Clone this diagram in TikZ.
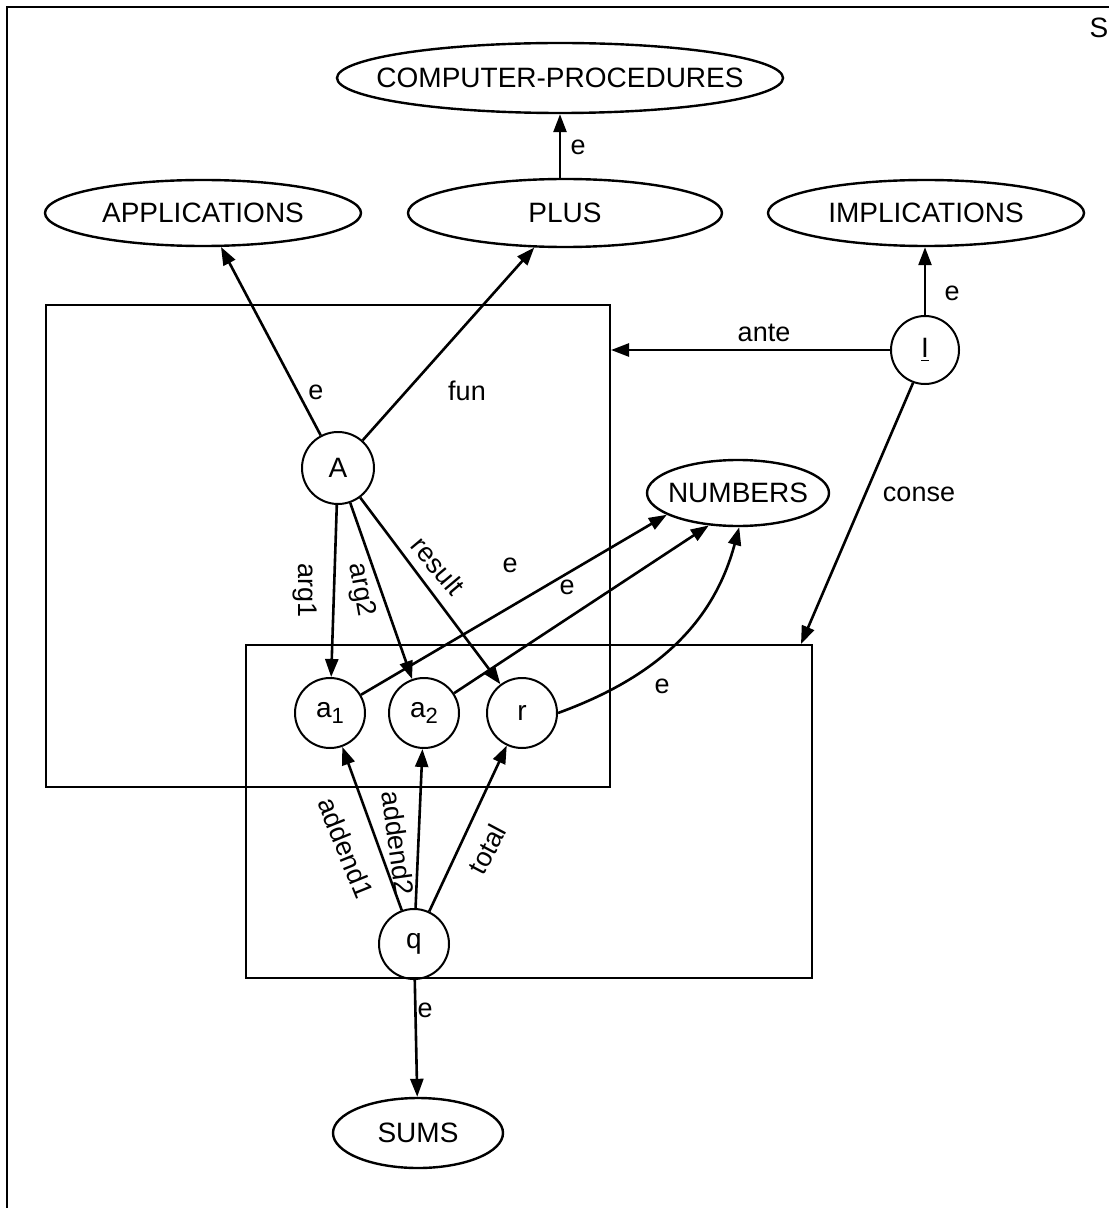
\documentclass[tikz,border=0pt]{standalone}
\usepackage{fontspec}
\setmainfont{Liberation Sans}
\usetikzlibrary{shapes.geometric,arrows.meta}
\newcommand{\zw}[1]{\makebox[0pt]{#1}}
\begin{document}
\begin{tikzpicture}[x=0.5pt,y=-0.5pt,
  every node/.style={font=\fontsize{14}{16}\selectfont},
  ell/.style={draw, ellipse, line width=1.2pt, inner sep=0pt},
  circ/.style={draw, circle, line width=1pt, minimum size=35pt, inner sep=0pt},
  frm/.style={draw, line width=1pt, inner sep=0pt},
  arr/.style={line width=1.3pt, -{Triangle[length=9pt,width=6.5pt]}},
  lab/.style={font=\fontsize{13.5}{16}\selectfont, inner sep=0pt}
]
\useasboundingbox (0,0) rectangle (1109,1208);
\draw[line width=1.2pt] (7,1208) -- (7,7) -- (1109,7);
\node (S) at (1099,28) {S};

% ellipses
\node[ell, minimum width=223pt, minimum height=35pt] (CP) at (560,78) {\zw{COMPUTER-PROCEDURES}};
\node[ell, minimum width=158pt, minimum height=33pt] (APP) at (203,213) {\zw{APPLICATIONS}};
\node[ell, minimum width=157pt, minimum height=34pt] (PLUS) at (565,213) {\zw{PLUS}};
\node[ell, minimum width=158pt, minimum height=33pt] (IMP) at (926,213) {\zw{IMPLICATIONS}};
\node[ell, minimum width=91pt, minimum height=33pt] (NUM) at (738,493) {\zw{NUMBERS}};
\node[ell, minimum width=85pt, minimum height=35pt] (SUMS) at (418,1133) {\zw{SUMS}};

% partition boxes
\node[frm, minimum width=282pt, minimum height=241pt] (B1) at (328,546) {};
\node[frm, minimum width=283pt, minimum height=166.5pt] (B2) at (529,811.5) {};

% circles
\node[circ, minimum size=36pt] (A) at (338,468) {A};
\node[circ, minimum size=34pt] (I) at (925,350) {\underline{I}};
\node[circ] (a1) at (330,713) {a\raisebox{-0.45ex}{\fontsize{11}{12}\selectfont 1}};
\node[circ] (a2) at (424,713) {a\raisebox{-0.45ex}{\fontsize{11}{12}\selectfont 2}};
\node[circ] (r) at (522,713) {r};
\node[circ] (q) at (414,944) {q};

% connectors
\draw[arr] (PLUS.north -| CP.south) -- (CP.south) node[lab] at (578,147) {e};
\draw[arr] (A) -- (APP) node[lab] at (316,392) {e};
\draw[arr] (A) -- (PLUS) node[lab] at (467,391) {fun};
\draw[arr] (I.west) -- (I.west -| B1.east) node[lab] at (764,333) {ante};
\draw[arr] (I.north) -- (I.north |- IMP.south) node[lab] at (952,293) {e};
\draw[arr] (I.250) -- ([xshift=-6pt]B2.north east) node[lab] at (919,494) {conse};
\draw[arr] (A) -- (a1) node[lab, rotate=-90] at (305,591) {arg1};
\draw[arr] (A) -- (a2) node[lab, rotate=-80] at (361,590) {arg2};
\draw[arr] (A) -- (r) node[lab, rotate=-50] at (438,566) {result};
\draw[arr] (a1) -- (NUM.197) node[lab] at (510,565) {e};
\draw[arr] (a2) -- (NUM.228) node[lab] at (567,587) {e};
\draw[arr] (r.east) to[out=20, in=-105] (NUM.272);
\node[lab] (le) at (662,686) {e};
\draw[arr] (q) -- (a1) node[lab, rotate=-68] at (346,848) {addend1};
\draw[arr] (q) -- (a2) node[lab, rotate=-82] at (398,843) {addend2};
\draw[arr] (q) -- (r) node[lab, rotate=62] at (487,849) {total};
\draw[arr] (q) -- (SUMS) node[lab] at (425,1010) {e};
\end{tikzpicture}
\end{document}
